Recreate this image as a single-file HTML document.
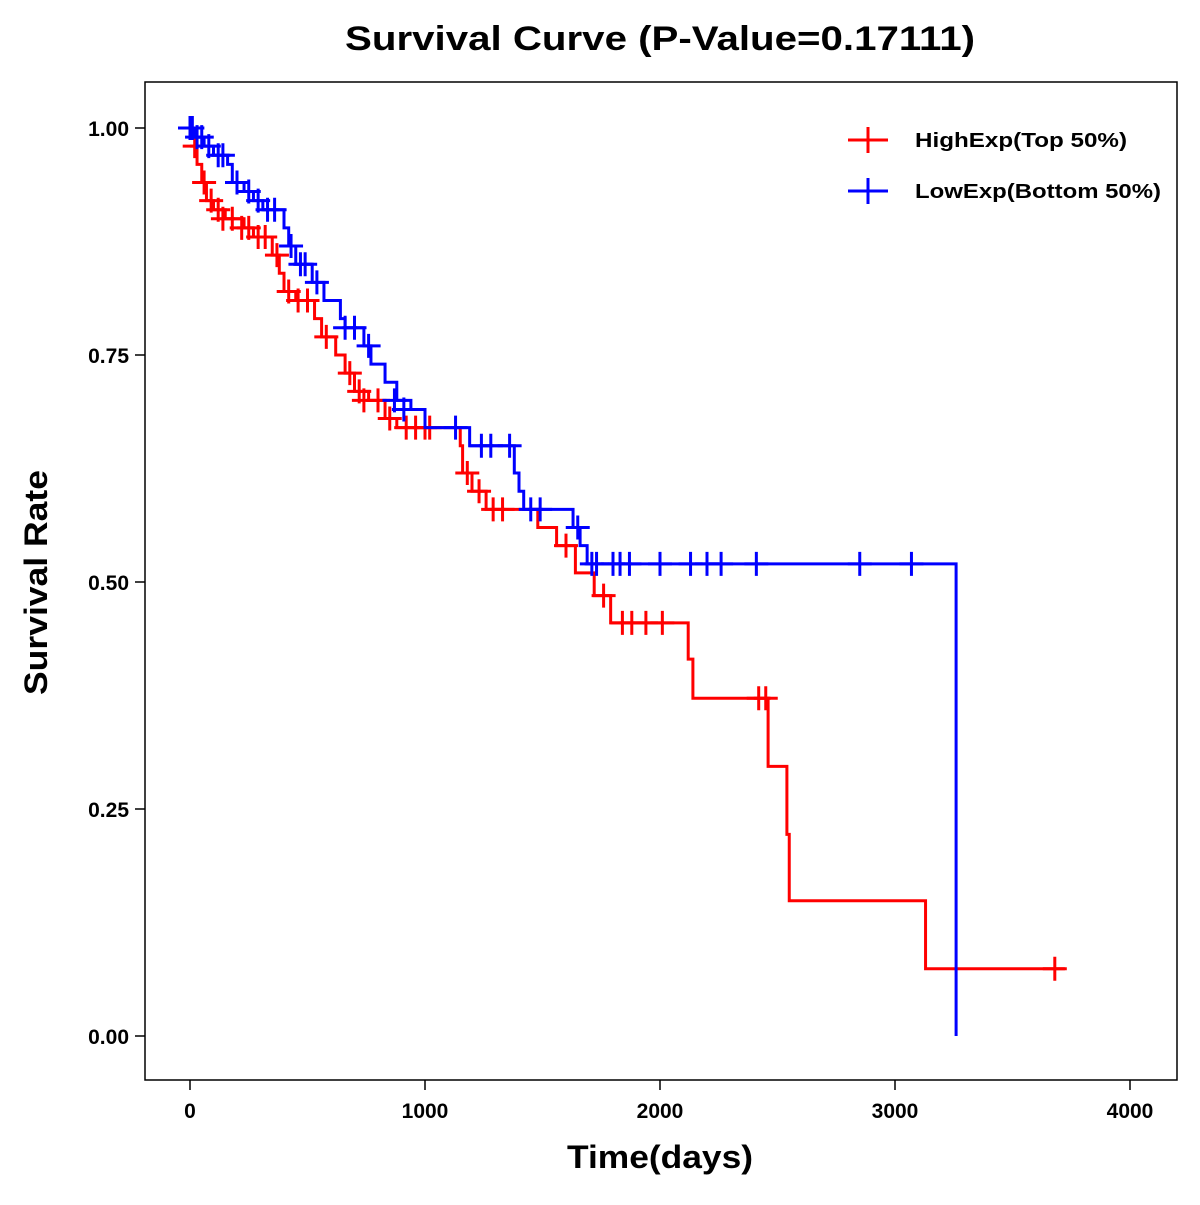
<!DOCTYPE html>
<html><head><meta charset="utf-8"><style>
body{margin:0;background:#fff}
text{font-family:"Liberation Sans",Arial,sans-serif;font-weight:bold}
</style></head><body>
<svg id="chart" width="1200" height="1200" viewBox="0 0 1200 1200" xmlns="http://www.w3.org/2000/svg">
<rect width="1200" height="1200" fill="#fff"/>
<text x="345" y="50" font-size="34" textLength="630" lengthAdjust="spacingAndGlyphs">Survival Curve (P-Value=0.17111)</text>
<rect x="145" y="82" width="1032" height="998" fill="none" stroke="#000" stroke-width="1.5"/>
<g id="axes"></g>
<g id="series"></g>
<text x="567" y="1168" font-size="32" textLength="186" lengthAdjust="spacingAndGlyphs">Time(days)</text>
<text transform="translate(47,695) rotate(-90)" font-size="32" textLength="225" lengthAdjust="spacingAndGlyphs">Survival Rate</text>
<g>
<line x1="848" y1="140" x2="888" y2="140" stroke="#f00" stroke-width="3"/><line x1="868" y1="127" x2="868" y2="153" stroke="#f00" stroke-width="3"/>
<text x="915" y="147" font-size="20" textLength="212" lengthAdjust="spacingAndGlyphs">HighExp(Top 50%)</text>
<line x1="848" y1="191" x2="888" y2="191" stroke="#00f" stroke-width="3"/><line x1="868" y1="178" x2="868" y2="204" stroke="#00f" stroke-width="3"/>
<text x="915" y="198" font-size="20" textLength="246" lengthAdjust="spacingAndGlyphs">LowExp(Bottom 50%)</text>
</g>
</svg>
<script>
const xTicks=[0,1000,2000,3000,4000];
const yTicks=[0,0.25,0.5,0.75,1.0];
const yTickLabels=["0.00","0.25","0.50","0.75","1.00"];
const highTimes=[0,30,50,70,100,150,230,270,350,380,400,450,530,560,620,660,700,760,830,880,1150,1160,1200,1260,1480,1560,1640,1720,1790,2120,2140,2460,2540,2550,3130];
const highSurv=[0.98,0.96,0.94,0.92,0.91,0.90,0.89,0.88,0.86,0.84,0.82,0.81,0.79,0.77,0.75,0.73,0.71,0.70,0.68,0.67,0.65,0.62,0.60,0.58,0.56,0.54,0.51,0.485,0.455,0.415,0.372,0.297,0.222,0.149,0.074];
const highEnd=3723;
const highCensor=[[20,0.98],[60,0.94],[90,0.92],[120,0.91],[140,0.90],[180,0.90],[220,0.89],[250,0.89],[290,0.88],[320,0.88],[370,0.86],[420,0.82],[460,0.81],[500,0.81],[580,0.77],[680,0.73],[720,0.71],[740,0.70],[800,0.70],[850,0.68],[920,0.67],[960,0.67],[1000,0.67],[1020,0.67],[1180,0.62],[1230,0.60],[1290,0.58],[1330,0.58],[1600,0.54],[1760,0.485],[1840,0.455],[1880,0.455],[1940,0.455],[2010,0.455],[2420,0.372],[2450,0.372],[3680,0.074]];
const lowTimes=[0,20,60,100,160,180,230,270,310,400,420,450,520,570,640,660,740,770,830,880,940,1000,1190,1380,1400,1420,1630,1660,1690,3260];
const lowSurv=[1.0,0.99,0.98,0.97,0.96,0.94,0.93,0.92,0.91,0.89,0.87,0.85,0.83,0.81,0.79,0.78,0.76,0.74,0.72,0.70,0.69,0.67,0.65,0.62,0.60,0.58,0.56,0.54,0.52,0.0];
const lowEnd=3260;
const lowCensor=[[0,1.0],[10,1.0],[30,0.99],[50,0.99],[80,0.98],[120,0.97],[140,0.97],[200,0.94],[250,0.93],[290,0.92],[330,0.91],[360,0.91],[430,0.87],[470,0.85],[490,0.85],[540,0.83],[660,0.78],[700,0.78],[760,0.76],[870,0.70],[910,0.69],[1130,0.67],[1240,0.65],[1280,0.65],[1360,0.65],[1450,0.58],[1490,0.58],[1650,0.56],[1710,0.52],[1730,0.52],[1800,0.52],[1830,0.52],[1870,0.52],[2000,0.52],[2130,0.52],[2200,0.52],[2260,0.52],[2410,0.52],[2850,0.52],[3070,0.52]];
const X=t=>190+t*0.235, Y=s=>1036-s*908;
const NS="http://www.w3.org/2000/svg";
function mk(tag,attrs,parent){const e=document.createElementNS(NS,tag);for(const k in attrs)e.setAttribute(k,attrs[k]);parent.appendChild(e);return e;}
const ax=document.getElementById('axes');
xTicks.forEach(t=>{
  const l=mk('line',{x1:X(t),x2:X(t),y1:1080,y2:1090,stroke:'#000','stroke-width':1.5},ax);
  
  
  const tx=mk('text',{x:X(t),y:1118,'text-anchor':'middle','font-size':21},ax);tx.textContent=t;
  
  
});
yTicks.forEach((v,i)=>{
  const l=mk('line',{x1:135,x2:145,y1:Y(v),y2:Y(v),stroke:'#000','stroke-width':1.5},ax);
  
  
  const tx=mk('text',{x:129,y:Y(v)+8,'text-anchor':'end','font-size':21},ax);tx.textContent=yTickLabels[i];
  
  
});
const sg=document.getElementById('series');
function draw(times,surv,end,cens,color,name){
  let d='M'+X(times[0])+' '+Y(surv[0]);
  for(let i=1;i<times.length;i++){d+=' H'+X(times[i])+' V'+Y(surv[i]);}
  d+=' H'+X(end);
  const p=mk('path',{d:d,fill:'none',stroke:color,'stroke-width':3},sg);
  
  
  cens.forEach(c=>{
    const x=X(c[0]),y=Y(c[1]);
    const g=mk('path',{d:`M${x-12} ${y}H${x+12}M${x} ${y-12}V${y+12}`,stroke:color,'stroke-width':3},sg);
    
    
  });
}
draw(highTimes,highSurv,highEnd,highCensor,'#f00','high-exp');
draw(lowTimes,lowSurv,lowEnd,lowCensor,'#00f','low-exp');
</script>
</body></html>
